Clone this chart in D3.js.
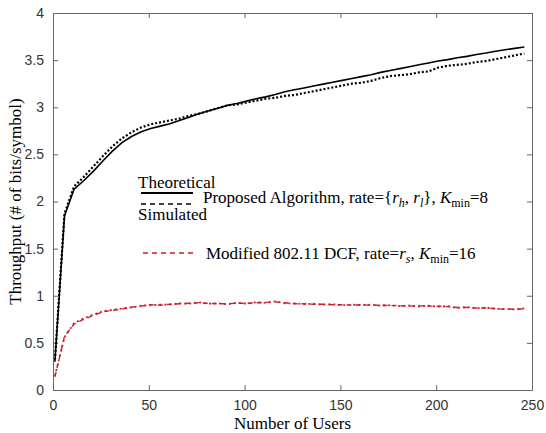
<!DOCTYPE html>
<html>
<head>
<meta charset="utf-8">
<script src="https://cdn.jsdelivr.net/npm/d3@7"></script>
<style>
  html, body { margin: 0; padding: 0; background: #fff; }
  svg { display: block; }
  .tick text { font-family: 'Liberation Sans', Arial, sans-serif; font-size: 14px; fill: #333; }
  .axis path, .axis line { stroke: #666; }
  .lbl { font-family: 'Liberation Serif', 'Times New Roman', serif; font-size: 17px; fill: #000; }
</style>
</head>
<body>
<div id="chart"></div>
<script>
const users = [1, 6, 11, 16, 21, 26, 31, 36, 41, 46, 51, 56, 61, 66, 71, 76, 81, 86, 91, 96,
  101, 106, 111, 116, 121, 126, 131, 136, 141, 146, 151, 156, 161, 166, 171, 176, 181, 186, 191, 196,
  201, 206, 211, 216, 221, 226, 231, 236, 241, 246];

const propTheory = [0.30, 1.85, 2.13, 2.22, 2.32, 2.43, 2.535, 2.625, 2.69, 2.74,
  2.775, 2.80, 2.825, 2.86, 2.895, 2.93, 2.96, 2.99, 3.02, 3.04,
  3.065, 3.09, 3.11, 3.135, 3.165, 3.185, 3.205, 3.225, 3.245, 3.265,
  3.285, 3.305, 3.325, 3.345, 3.37, 3.39, 3.41, 3.43, 3.45, 3.47,
  3.49, 3.505, 3.525, 3.54, 3.56, 3.575, 3.595, 3.61, 3.625, 3.64];

const propSim = [0.32, 1.87, 2.16, 2.26, 2.37, 2.48, 2.585, 2.67, 2.735, 2.785,
  2.82, 2.84, 2.86, 2.88, 2.91, 2.93, 2.96, 2.99, 3.02, 3.03,
  3.05, 3.07, 3.09, 3.10, 3.12, 3.13, 3.15, 3.17, 3.19, 3.21,
  3.23, 3.25, 3.26, 3.28, 3.31, 3.33, 3.34, 3.35, 3.37, 3.38,
  3.42, 3.44, 3.45, 3.46, 3.48, 3.49, 3.51, 3.53, 3.55, 3.57];

const dcfTheory = [0.14, 0.57, 0.70, 0.75, 0.79, 0.83, 0.845, 0.86, 0.88, 0.89,
  0.905, 0.90, 0.91, 0.915, 0.92, 0.925, 0.92, 0.915, 0.915, 0.92,
  0.92, 0.925, 0.93, 0.935, 0.925, 0.915, 0.915, 0.91, 0.91, 0.905,
  0.905, 0.90, 0.905, 0.90, 0.90, 0.895, 0.895, 0.89, 0.895, 0.89,
  0.89, 0.885, 0.875, 0.875, 0.87, 0.87, 0.865, 0.855, 0.86, 0.86];

const dcfSim = [0.15, 0.56, 0.71, 0.76, 0.80, 0.835, 0.85, 0.865, 0.875, 0.895,
  0.90, 0.905, 0.905, 0.92, 0.915, 0.93, 0.915, 0.92, 0.91, 0.925,
  0.915, 0.93, 0.925, 0.94, 0.92, 0.92, 0.91, 0.915, 0.905, 0.91,
  0.90, 0.905, 0.90, 0.905, 0.895, 0.90, 0.89, 0.895, 0.885, 0.895,
  0.885, 0.89, 0.87, 0.88, 0.865, 0.875, 0.86, 0.86, 0.855, 0.865];

const xTicks = [0, 50, 100, 150, 200, 250];
const yTicks = [0, 0.5, 1, 1.5, 2, 2.5, 3, 3.5, 4];

const width = 546, height = 433;
const margin = { top: 13, right: 14, bottom: 43, left: 53 };
const innerW = width - margin.left - margin.right;
const innerH = height - margin.top - margin.bottom;

const svg = d3.select('#chart').append('svg')
  .attr('width', width)
  .attr('height', height);

const g = svg.append('g')
  .attr('transform', `translate(${margin.left},${margin.top})`);

const x = d3.scaleLinear().domain([0, 250]).range([0, innerW]);
const y = d3.scaleLinear().domain([0, 4]).range([innerH, 0]);

// box with inward ticks on all sides
g.append('g').attr('class', 'axis')
  .attr('transform', `translate(0,${innerH})`)
  .call(d3.axisBottom(x).tickValues(xTicks).tickSize(-5).tickPadding(10).tickSizeOuter(0));
g.append('g').attr('class', 'axis')
  .call(d3.axisTop(x).tickValues(xTicks).tickSize(-5).tickFormat('').tickSizeOuter(0));
g.append('g').attr('class', 'axis')
  .call(d3.axisLeft(y).tickValues(yTicks).tickSize(-5).tickPadding(9).tickSizeOuter(0)
    .tickFormat(d3.format('')));
g.append('g').attr('class', 'axis')
  .attr('transform', `translate(${innerW},0)`)
  .call(d3.axisRight(y).tickValues(yTicks).tickSize(-5).tickFormat('').tickSizeOuter(0));

const line = vals => d3.line()
  .x((d, i) => x(users[i]))
  .y(d => y(d))(vals);

const series = [
  { vals: dcfTheory, color: '#c8202f', dash: '5,4', w: 1.4 },
  { vals: dcfSim, color: '#c8202f', dash: '2,3', w: 1.8 },
  { vals: propTheory, color: '#000', dash: null, w: 1.6 },
  { vals: propSim, color: '#000', dash: '2,2', w: 2.2 }
];

g.selectAll('path.curve')
  .data(series)
  .join('path')
  .attr('class', 'curve')
  .attr('fill', 'none')
  .attr('stroke', d => d.color)
  .attr('stroke-width', d => d.w)
  .attr('stroke-dasharray', d => d.dash)
  .attr('d', d => line(d.vals));

// legend
const leg = svg.append('g');
leg.append('text').attr('class', 'lbl').attr('x', 138).attr('y', 188).text('Theoretical');
leg.append('line').attr('x1', 141).attr('x2', 193).attr('y1', 193).attr('y2', 193)
  .attr('stroke', '#000').attr('stroke-width', 2);
leg.append('line').attr('x1', 141).attr('x2', 193).attr('y1', 204).attr('y2', 204)
  .attr('stroke', '#000').attr('stroke-width', 1.4).attr('stroke-dasharray', '5,4');
leg.append('text').attr('class', 'lbl').attr('x', 138).attr('y', 220).text('Simulated');

const t1 = leg.append('text').attr('class', 'lbl').attr('x', 203).attr('y', 203);
t1.append('tspan').text('Proposed Algorithm, rate={');
t1.append('tspan').attr('font-style', 'italic').text('r');
t1.append('tspan').attr('font-style', 'italic').attr('font-size', 12).attr('dy', 4).text('h');
t1.append('tspan').attr('dy', -4).text(', ');
t1.append('tspan').attr('font-style', 'italic').text('r');
t1.append('tspan').attr('font-style', 'italic').attr('font-size', 12).attr('dy', 4).text('l');
t1.append('tspan').attr('dy', -4).text('}, ');
t1.append('tspan').attr('font-style', 'italic').text('K');
t1.append('tspan').attr('font-size', 12).attr('dy', 4).text('min');
t1.append('tspan').attr('dy', -4).text('=8');

leg.append('line').attr('x1', 143).attr('x2', 193).attr('y1', 253).attr('y2', 253)
  .attr('stroke', '#c8202f').attr('stroke-width', 1.4).attr('stroke-dasharray', '5,4');
const t2 = leg.append('text').attr('class', 'lbl').attr('x', 206).attr('y', 259);
t2.append('tspan').text('Modified 802.11 DCF, rate=');
t2.append('tspan').attr('font-style', 'italic').text('r');
t2.append('tspan').attr('font-style', 'italic').attr('font-size', 12).attr('dy', 4).text('s');
t2.append('tspan').attr('dy', -4).text(', ');
t2.append('tspan').attr('font-style', 'italic').text('K');
t2.append('tspan').attr('font-size', 12).attr('dy', 4).text('min');
t2.append('tspan').attr('dy', -4).text('=16');

// axis titles
svg.append('text').attr('class', 'lbl')
  .attr('x', margin.left + innerW / 2).attr('y', 429)
  .attr('text-anchor', 'middle').text('Number of Users');
svg.append('text').attr('class', 'lbl')
  .attr('transform', `translate(21,${margin.top + innerH / 2}) rotate(-90)`)
  .attr('text-anchor', 'middle').text('Throughput (# of bits/symbol)');
</script>
</body>
</html>
